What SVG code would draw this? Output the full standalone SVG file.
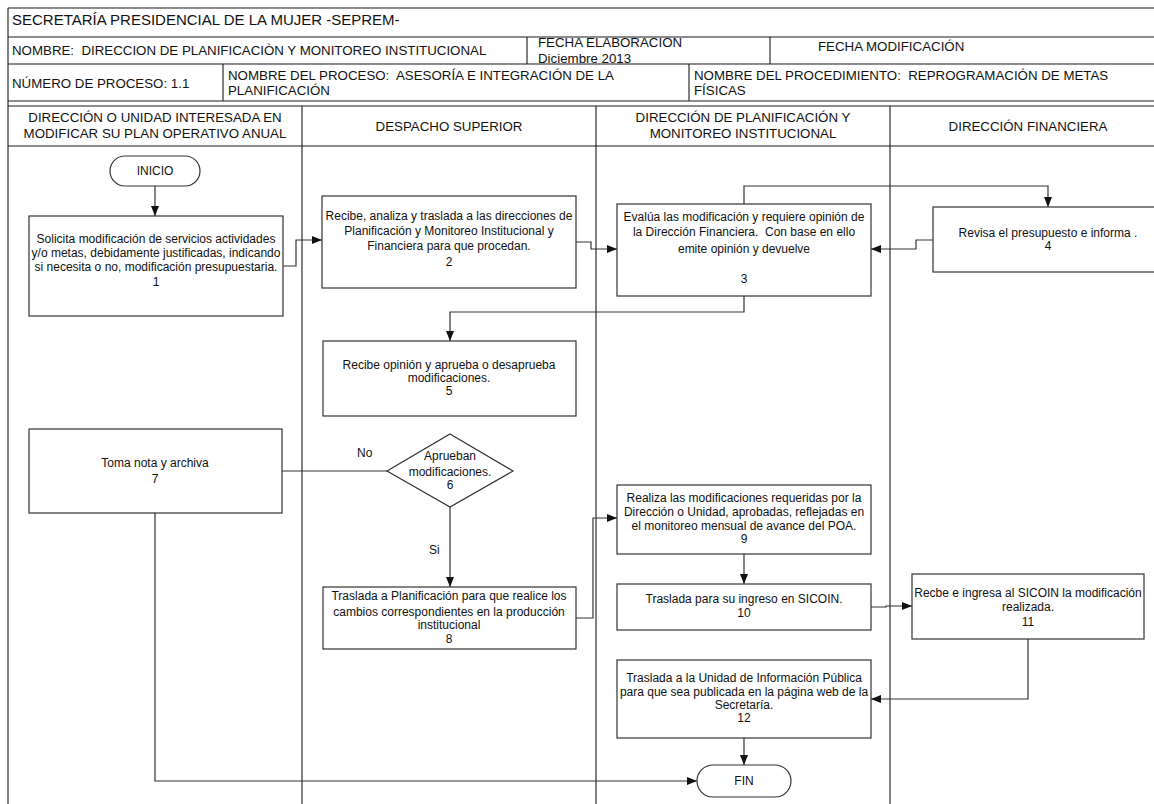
<svg xmlns="http://www.w3.org/2000/svg" width="1154" height="804" viewBox="0 0 1154 804">
  <style>
    text { font-family: "Liberation Sans", Arial, sans-serif; fill: #111; white-space: pre; }
    .t { font-size: 12px; text-anchor: middle; }
    .hd { font-size: 13.3px; }
    .lane { font-size: 13.3px; text-anchor: middle; }
    .title { font-size: 15px; }
    .grid { stroke: #1a1a1a; stroke-width: 1.1; fill: none; }
    .box { fill: #fff; stroke: #333; stroke-width: 1.2; }
    .conn { fill: none; stroke: #333; stroke-width: 1.2; }
    .lbl { font-size: 12px; }
  </style>
  <defs>
    <marker id="arrow" viewBox="0 0 10 10" refX="10" refY="5" markerWidth="10" markerHeight="10" markerUnits="userSpaceOnUse" orient="auto">
      <path d="M0,1 L10,5 L0,9 z" fill="#111"/>
    </marker>
  </defs>

  <rect x="0" y="0" width="1154" height="804" fill="#fff"/>

  <!-- form header and swimlane grid -->
  <g id="grid" class="grid">
    <path d="M8,8 H1154 M8,8 V804"/>
    <path d="M8,37 H1154 M8,64 H1154 M8,101 H1154 M8,106 H1154 M8,146 H1154"/>
    <path d="M527,37 V64 M770,37 V64"/>
    <path d="M223,64 V101 M689,64 V101"/>
    <path d="M302,106 V804 M596,106 V804 M890,106 V804"/>
  </g>

  <g id="header">
    <text class="title" x="12" y="25">SECRETARÍA PRESIDENCIAL DE LA MUJER -SEPREM-</text>
    <text class="hd" x="12" y="55">NOMBRE:  DIRECCION DE PLANIFICACIÒN Y MONITOREO INSTITUCIONAL</text>
    <text class="hd" x="538" y="47">FECHA ELABORACION</text>
    <text class="hd" x="538" y="63">Diciembre 2013</text>
    <text class="hd" x="818" y="51">FECHA MODIFICACIÓN</text>
    <text class="hd" x="12" y="88">NÚMERO DE PROCESO: 1.1</text>
    <text class="hd" x="228" y="80">NOMBRE DEL PROCESO:  ASESORÍA E INTEGRACIÓN DE LA</text>
    <text class="hd" x="228" y="95">PLANIFICACIÓN</text>
    <text class="hd" x="694" y="80">NOMBRE DEL PROCEDIMIENTO:  REPROGRAMACIÓN DE METAS</text>
    <text class="hd" x="694" y="95">FÍSICAS</text>
  </g>

  <g id="lanes">
    <text class="lane" x="155" y="122">DIRECCIÓN O UNIDAD INTERESADA EN</text>
    <text class="lane" x="155" y="138">MODIFICAR SU PLAN OPERATIVO ANUAL</text>
    <text class="lane" x="449" y="131">DESPACHO SUPERIOR</text>
    <text class="lane" x="743" y="122">DIRECCIÓN DE PLANIFICACIÓN Y</text>
    <text class="lane" x="743" y="138">MONITOREO INSTITUCIONAL</text>
    <text class="lane" x="1028" y="131">DIRECCIÓN FINANCIERA</text>
  </g>

  <!-- connectors -->
  <g id="connectors">
    <path class="conn" d="M155,186 V216" marker-end="url(#arrow)"/>
    <path class="conn" d="M283,266 H296 V240 H322" marker-end="url(#arrow)"/>
    <path class="conn" d="M576,242 H591 V249 H617" marker-end="url(#arrow)"/>
    <path class="conn" d="M744,204 V186 H1048 V207" marker-end="url(#arrow)"/>
    <path class="conn" d="M933,240 H916 V249 H871" marker-end="url(#arrow)"/>
    <path class="conn" d="M744,296 V312 H450 V341" marker-end="url(#arrow)"/>
    <path class="conn" d="M387,471 H282"/>
    <path class="conn" d="M450,507 V587" marker-end="url(#arrow)"/>
    <path class="conn" d="M576,618 H593 V518 H617" marker-end="url(#arrow)"/>
    <path class="conn" d="M744,554 V584" marker-end="url(#arrow)"/>
    <path class="conn" d="M871,607 H886 V606 H912" marker-end="url(#arrow)"/>
    <path class="conn" d="M1028,639 V699 H871" marker-end="url(#arrow)"/>
    <path class="conn" d="M744,738 V765" marker-end="url(#arrow)"/>
    <path class="conn" d="M155,513 V781 H697" marker-end="url(#arrow)"/>
    <text class="lbl" x="357" y="457">No</text>
    <text class="lbl" x="429" y="554">Si</text>
  </g>

  <g id="n-inicio">
    <rect class="box" x="110" y="156" width="90" height="30" rx="15"/>
    <text class="t" x="155" y="175">INICIO</text>
  </g>

  <g id="n1">
    <rect class="box" x="29" y="216" width="254" height="100"/>
    <text class="t" x="156" y="243">Solicita modificación de servicios actividades</text>
    <text class="t" x="156" y="257">y/o metas, debidamente justificadas, indicando</text>
    <text class="t" x="156" y="271">si necesita o no, modificación presupuestaria.</text>
    <text class="t" x="156" y="286">1</text>
  </g>

  <g id="n2">
    <rect class="box" x="322" y="196" width="254" height="92"/>
    <text class="t" x="449" y="220">Recibe, analiza y traslada a las direcciones de</text>
    <text class="t" x="449" y="235">Planificación y Monitoreo Institucional y</text>
    <text class="t" x="449" y="250">Financiera para que procedan.</text>
    <text class="t" x="449" y="266">2</text>
  </g>

  <g id="n3">
    <rect class="box" x="617" y="204" width="254" height="92"/>
    <text class="t" x="744" y="221">Evalúa las modificación y requiere opinión de</text>
    <text class="t" x="744" y="236">la Dirección Financiera.  Con base en ello</text>
    <text class="t" x="744" y="253">emite opinión y devuelve</text>
    <text class="t" x="744" y="283">3</text>
  </g>

  <g id="n4">
    <rect class="box" x="933" y="207" width="230" height="65"/>
    <text class="t" x="1048" y="237">Revisa el presupuesto e informa .</text>
    <text class="t" x="1048" y="250">4</text>
  </g>

  <g id="n5">
    <rect class="box" x="323" y="341" width="253" height="75"/>
    <text class="t" x="449" y="369">Recibe opinión y aprueba o desaprueba</text>
    <text class="t" x="449" y="382">modificaciones.</text>
    <text class="t" x="449" y="395">5</text>
  </g>

  <g id="n6">
    <polygon class="box" points="450,434 513,471 450,507 387,471"/>
    <text class="t" x="450" y="460">Aprueban</text>
    <text class="t" x="450" y="476">modificaciones.</text>
    <text class="t" x="450" y="489">6</text>
  </g>

  <g id="n7">
    <rect class="box" x="29" y="429" width="253" height="84"/>
    <text class="t" x="155" y="467">Toma nota y archiva</text>
    <text class="t" x="155" y="483">7</text>
  </g>

  <g id="n8">
    <rect class="box" x="323" y="587" width="253" height="62"/>
    <text class="t" x="449" y="600">Traslada a Planificación para que realice los</text>
    <text class="t" x="449" y="616">cambios correspondientes en la producción</text>
    <text class="t" x="449" y="629">institucional</text>
    <text class="t" x="449" y="643">8</text>
  </g>

  <g id="n9">
    <rect class="box" x="617" y="485" width="254" height="69"/>
    <text class="t" x="744" y="502">Realiza las modificaciones requeridas por la</text>
    <text class="t" x="744" y="516">Dirección o Unidad, aprobadas, reflejadas en</text>
    <text class="t" x="744" y="530">el monitoreo mensual de avance del POA.</text>
    <text class="t" x="744" y="543">9</text>
  </g>

  <g id="n10">
    <rect class="box" x="617" y="584" width="254" height="46"/>
    <text class="t" x="744" y="603">Traslada para su ingreso en SICOIN.</text>
    <text class="t" x="744" y="617">10</text>
  </g>

  <g id="n11">
    <rect class="box" x="912" y="574" width="232" height="65"/>
    <text class="t" x="1028" y="597">Recbe e ingresa al SICOIN la modificación</text>
    <text class="t" x="1028" y="611">realizada.</text>
    <text class="t" x="1028" y="626">11</text>
  </g>

  <g id="n12">
    <rect class="box" x="617" y="660" width="254" height="78"/>
    <text class="t" x="744" y="682">Traslada a la Unidad de Información Pública</text>
    <text class="t" x="744" y="696">para que sea publicada en la página web de la</text>
    <text class="t" x="744" y="709">Secretaría.</text>
    <text class="t" x="744" y="722">12</text>
  </g>

  <g id="n-fin">
    <rect class="box" x="697" y="765" width="94" height="32" rx="16"/>
    <text class="t" x="744" y="785">FIN</text>
  </g>
</svg>
